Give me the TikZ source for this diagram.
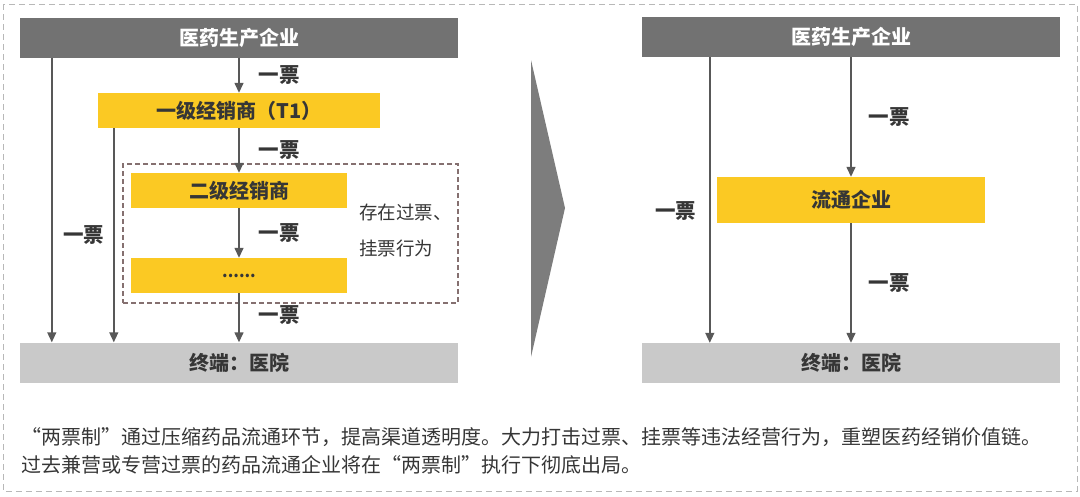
\documentclass[tikz,border=0pt]{standalone}
\usepackage{fontspec}
\setmainfont{Noto Sans CJK SC}
\usepackage{tikz}
\usetikzlibrary{arrows.meta}
\definecolor{topgray}{HTML}{727272}
\definecolor{endgray}{HTML}{C9C9C9}
\definecolor{tyellow}{HTML}{FBC923}
\definecolor{arrgray}{HTML}{585858}
\definecolor{txtgray}{HTML}{363636}
\definecolor{framegray}{HTML}{B8B8B8}
\definecolor{boxbrown}{HTML}{857070}
\begin{document}
\begin{tikzpicture}[x=1pt,y=-1pt,
    bar/.style={shape=rectangle,minimum height=40pt,inner sep=0pt,font=\bfseries\fontsize{20}{22}\selectfont},
    ybox/.style={shape=rectangle,fill=tyellow,inner sep=0pt,text=txtgray,font=\bfseries\fontsize{20}{22}\selectfont},
    arr/.style={-{Triangle[width=9pt,length=10pt]},line width=1.4pt,draw=arrgray},
    piao/.style={inner sep=0pt,text=txtgray,font=\bfseries\fontsize{20.5}{22}\selectfont}]
      \useasboundingbox (0,0) rectangle (1080,496);
      \draw[framegray,line width=1pt,dash pattern=on 6pt off 4pt] (3,4) rectangle (1077,491);
      % before: several tiers
      \node[bar,fill=topgray,text=white,minimum width=438pt] (mfrL) at (239,37.5) {医药生产企业};
      \node[bar,fill=endgray,text=txtgray,minimum width=438pt] (hosL) at (239,362.5) {终端：医院};
      \node[ybox,minimum width=282pt,minimum height=35pt] (t1) at (239,110.5) {一级经销商（T1）};
      \node[shape=rectangle,draw=boxbrown,line width=1.1pt,dash pattern=on 5pt off 3pt,minimum width=335pt,minimum height=139pt] (gray) at (290.5,233.5) {};
      \node[ybox,minimum width=216pt,minimum height=35pt] (t2) at (239,190.5) {二级经销商};
      \node[ybox,minimum width=216pt,minimum height=35pt] (tn) at (239,275.5) {\fontsize{16}{18}\selectfont\raisebox{-5pt}{......}};
      \node[anchor=west,align=left,inner sep=0pt,text=txtgray,font=\fontsize{18.5}{36}\selectfont] (note) at (359,230) {存在过票、\\挂票行为};
      \draw[arr] (mfrL) -- node[piao,anchor=west,xshift=19pt] {一票} (t1);
      \draw[arr] (t1) -- node[piao,anchor=west,xshift=19pt] {一票} (t2);
      \draw[arr] (t2) -- node[piao,anchor=west,xshift=19pt] {一票} (tn);
      \draw[arr] (tn) -- node[piao,anchor=west,xshift=19pt,yshift=3pt] {一票} (hosL);
      % direct invoices to the hospital
      \coordinate[xshift=32pt] (dL) at (mfrL.south west);
      \coordinate[xshift=16pt] (d1) at (t1.south west);
      \draw[arr] (dL) -- (dL |- hosL.north);
      \draw[arr] (d1) -- node[piao,anchor=east,xshift=-9pt] {一票} (d1 |- hosL.north);
      % chevron
      \fill[topgray!92] (531,60) -- (565,208) -- (531,357) -- cycle;
      % after: two invoices
      \node[bar,fill=topgray,text=white,minimum width=418pt] (mfrR) at (851,37) {医药生产企业};
      \node[bar,fill=endgray,text=txtgray,minimum width=418pt] (hosR) at (851,363) {终端：医院};
      \node[ybox,minimum width=268pt,minimum height=46pt] (dist) at (851,200) {流通企业};
      \draw[arr] (mfrR) -- node[piao,anchor=west,xshift=17pt] {一票} (dist);
      \draw[arr] (dist) -- node[piao,anchor=west,xshift=17pt] {一票} (hosR);
      \coordinate[xshift=68pt] (dR) at (mfrR.south west);
      \draw[arr] (dR) -- node[piao,pos=.54,anchor=east,xshift=-13pt] {一票} (dR |- hosR.north);
      % caption
      \node[anchor=west,align=left,inner sep=0pt,text=txtgray,font=\fontsize{20}{28}\selectfont] (caption) at (21,451) {“两票制”通过压缩药品流通环节，提高渠道透明度。大力打击过票、挂票等违法经营行为，重塑医药经销价值链。\\过去兼营或专营过票的药品流通企业将在“两票制”执行下彻底出局。};
\end{tikzpicture}
\end{document}
